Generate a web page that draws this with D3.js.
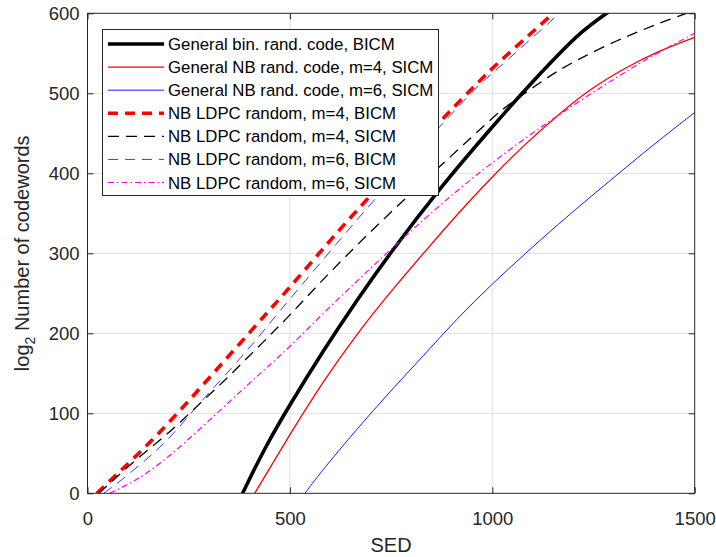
<!DOCTYPE html>
<html>
<head>
<meta charset="utf-8">
<script src="https://cdn.jsdelivr.net/npm/d3@7"></script>
<style>
  body { margin: 0; background: #fff; }
  svg { font-family: "Liberation Sans", Arial, sans-serif; }
</style>
</head>
<body>
<script>
'use strict';

// x ticks / y ticks
const xTicks = [0, 500, 1000, 1500];
const yTicks = [0, 100, 200, 300, 400, 500, 600];

// General bin. rand. code, BICM
const binBicmX = [383, 438, 499, 582, 665, 747, 871, 998, 1082, 1164, 1222, 1279, 1300];
const binBicmY = [0, 57, 110, 178, 241, 300, 382, 457, 505, 549, 578, 599, 606];

// General NB rand. code, m=4, SICM
const nbM4SicmX = [413, 499, 582, 665, 747, 830, 912, 998, 1082, 1164, 1246, 1329, 1411, 1500];
const nbM4SicmY = [0, 73, 140, 199, 251, 300, 348, 395, 437, 474, 507, 532, 553, 570];

// General NB rand. code, m=6, SICM
const nbM6SicmX = [537, 582, 665, 747, 830, 912, 998, 1082, 1164, 1246, 1329, 1411, 1500];
const nbM6SicmY = [0, 30, 80, 127, 172, 218, 261, 300, 337, 372, 407, 441, 476];

// NB LDPC random, m=4, BICM
const ldpcM4BicmX = [23, 75, 154, 228, 302, 376, 446, 487, 591, 665, 895, 970, 1007, 1094, 1150, 1180];
const ldpcM4BicmY = [0, 25, 63, 103, 145, 187, 227, 250, 311, 354, 478, 516, 535, 574, 600, 613];

// NB LDPC random, m=4, SICM
const ldpcM4SicmX = [28, 63, 108, 154, 199, 240, 281, 318, 355, 396, 434, 471, 499, 665, 998, 1024, 1119, 1168, 1222, 1312, 1370, 1419, 1469, 1500];
const ldpcM4SicmY = [0, 16, 37, 56, 75, 94, 114, 131, 149, 170, 189, 208, 222, 313, 468, 480, 514, 530, 545, 567, 579, 589, 598, 604];

// NB LDPC random, m=6, BICM
const ldpcM6BicmX = [40, 83, 133, 174, 215, 252, 290, 330, 376, 417, 454, 495, 607, 694, 945, 998, 1016, 1164, 1190];
const ldpcM6BicmY = [0, 16, 37, 55, 76, 98, 120, 142, 168, 192, 215, 240, 307, 359, 501, 524, 532, 599, 611];

// NB LDPC random, m=6, SICM
const ldpcM6SicmX = [55, 100, 141, 191, 240, 290, 339, 388, 438, 500, 582, 665, 743, 830, 912, 998, 1106, 1205, 1304, 1394, 1500];
const ldpcM6SicmY = [0, 11, 23, 42, 63, 86, 109, 132, 155, 183, 225, 265, 302, 342, 378, 413, 453, 487, 519, 547, 575];

const seriesNames = [
  'General bin. rand. code, BICM',
  'General NB rand. code, m=4, SICM',
  'General NB rand. code, m=6, SICM',
  'NB LDPC random, m=4, BICM',
  'NB LDPC random, m=4, SICM',
  'NB LDPC random, m=6, BICM',
  'NB LDPC random, m=6, SICM'
];

// styles kept apart from the values
const styles = [
  { color: '#000000', width: 3.6, dash: null },
  { color: '#ff0000', width: 1.3, dash: null },
  { color: '#0000ee', width: 0.9, dash: null },
  { color: '#ff0000', width: 3.6, dash: '10,7' },
  { color: '#000000', width: 1.3, dash: '11,7' },
  { color: '#2020ff', width: 0.9, dash: '10,7' },
  { color: '#ff00ff', width: 1.2, dash: '6,3,1.5,3' }
];

const seriesX = [binBicmX, nbM4SicmX, nbM6SicmX, ldpcM4BicmX, ldpcM4SicmX, ldpcM6BicmX, ldpcM6SicmX];
const seriesY = [binBicmY, nbM4SicmY, nbM6SicmY, ldpcM4BicmY, ldpcM4SicmY, ldpcM6BicmY, ldpcM6SicmY];

const W = 716, H = 557;
const plotL = 87.5, plotR = 694.7, plotT = 13.3, plotB = 493.3;
const axisColor = '#262626';

const svg = d3.select('body').append('svg')
  .attr('width', W)
  .attr('height', H);

const xScale = d3.scaleLinear().domain([0, 1500]).range([plotL, plotR]);
const yScale = d3.scaleLinear().domain([0, 600]).range([plotB, plotT]);

// grid
const grid = svg.append('g');
grid.selectAll('.gx')
  .data(xTicks.slice(1, -1))
  .enter().append('line')
  .attr('x1', d => xScale(d)).attr('x2', d => xScale(d))
  .attr('y1', plotT).attr('y2', plotB)
  .attr('stroke', '#dfdfdf').attr('stroke-width', 1);
grid.selectAll('.gy')
  .data(yTicks.slice(1, -1))
  .enter().append('line')
  .attr('y1', d => yScale(d)).attr('y2', d => yScale(d))
  .attr('x1', plotL).attr('x2', plotR)
  .attr('stroke', '#dfdfdf').attr('stroke-width', 1);

// curves, clipped to plot area
svg.append('clipPath').attr('id', 'plotclip')
  .append('rect')
  .attr('x', plotL).attr('y', plotT)
  .attr('width', plotR - plotL).attr('height', plotB - plotT);

const line = d3.line()
  .x(d => xScale(d[0]))
  .y(d => yScale(d[1]))
  .curve(d3.curveBasis);

const curves = svg.append('g').attr('clip-path', 'url(#plotclip)');
seriesX.forEach((xs, i) => {
  const pts = xs.map((x, j) => [x, seriesY[i][j]]);
  curves.append('path')
    .attr('d', line(pts))
    .attr('fill', 'none')
    .attr('stroke', styles[i].color)
    .attr('stroke-width', styles[i].width)
    .attr('stroke-dasharray', styles[i].dash);
});

// axes, ticks pointing inward
function styleAxis(g) {
  g.select('.domain').remove();
  g.selectAll('line').attr('stroke', axisColor);
  g.selectAll('text')
    .attr('fill', axisColor)
    .style('font-size', '18.5px');
}

const fmt = d3.format('d');

svg.append('g')
  .attr('transform', `translate(0,${plotB})`)
  .call(d3.axisBottom(xScale).tickValues(xTicks).tickFormat(fmt).tickSizeInner(-6).tickSizeOuter(0).tickPadding(19))
  .call(styleAxis);

svg.append('g')
  .attr('transform', `translate(0,${plotT})`)
  .call(d3.axisTop(xScale).tickValues(xTicks).tickSizeInner(-6).tickSizeOuter(0).tickFormat(''))
  .call(styleAxis);

svg.append('g')
  .attr('transform', `translate(${plotL},0)`)
  .call(d3.axisLeft(yScale).tickValues(yTicks).tickFormat(fmt).tickSizeInner(-6).tickSizeOuter(0).tickPadding(8))
  .call(styleAxis);

svg.append('g')
  .attr('transform', `translate(${plotR},0)`)
  .call(d3.axisRight(yScale).tickValues(yTicks).tickSizeInner(-6).tickSizeOuter(0).tickFormat(''))
  .call(styleAxis);

// box
svg.append('rect')
  .attr('x', plotL).attr('y', plotT)
  .attr('width', plotR - plotL).attr('height', plotB - plotT)
  .attr('fill', 'none')
  .attr('stroke', axisColor)
  .attr('stroke-width', 1);

// axis labels
svg.append('text')
  .attr('x', (plotL + plotR) / 2)
  .attr('y', 552)
  .attr('text-anchor', 'middle')
  .attr('fill', axisColor)
  .style('font-size', '20px')
  .text('SED');

const ylab = svg.append('text')
  .attr('transform', `translate(29,${(plotT + plotB) / 2})rotate(-90)`)
  .attr('text-anchor', 'middle')
  .attr('fill', axisColor)
  .style('font-size', '20px');
ylab.append('tspan').text('log');
ylab.append('tspan').attr('dy', 6).style('font-size', '14px').text('2');
ylab.append('tspan').attr('dy', -6).text(' Number of codewords');

// legend
const lg = svg.append('g');
lg.append('rect')
  .attr('x', 102.5).attr('y', 29.5)
  .attr('width', 336).attr('height', 166)
  .attr('fill', '#fff')
  .attr('stroke', axisColor)
  .attr('stroke-width', 1);

const rowY = d3.scaleLinear().domain([0, 6]).range([44, 182.5]);
seriesNames.forEach((name, i) => {
  const y = rowY(i);
  lg.append('line')
    .attr('x1', 108).attr('x2', 164)
    .attr('y1', y).attr('y2', y)
    .attr('stroke', styles[i].color)
    .attr('stroke-width', styles[i].width)
    .attr('stroke-dasharray', styles[i].dash);
  lg.append('text')
    .attr('x', 168)
    .attr('y', y + 6)
    .attr('fill', '#000')
    .style('font-size', '16.8px')
    .text(name);
});
</script>
</body>
</html>
